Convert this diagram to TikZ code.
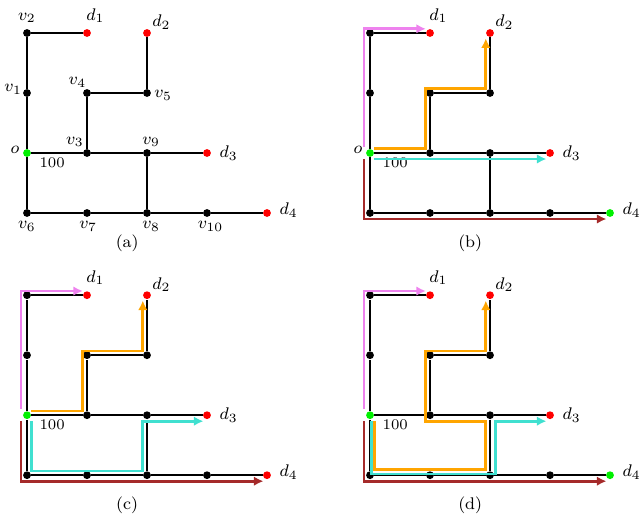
\documentclass[tikz,border=0pt]{standalone}
\usepackage{tikz}
\usetikzlibrary{arrows.meta}
\definecolor{pathviolet}{RGB}{238,130,238}
\definecolor{pathorange}{RGB}{255,165,0}
\definecolor{pathturq}{RGB}{64,224,208}
\definecolor{pathbrown}{RGB}{165,42,42}
\definecolor{srcgreen}{RGB}{0,240,0}
\definecolor{dstred}{RGB}{255,0,0}

% one panel: #1 letter, #2 shift, #3 colour of d4
\newcommand{\gridpanel}[3]{%
\begin{scope}[shift={#2}]
% vertices
\foreach \n/\x/\y in {v1/0/1, v2/0/2, v3/1/0, v4/1/1, v5/2/1, v6/0/-1, v7/1/-1, v8/2/-1, v9/2/0, v10/3/-1}
    \node[vtx] (#1-\n) at (\x,\y) {};
\node[src] (#1-o) at (0,0) {};
\foreach \n/\x/\y in {d1/1/2, d2/2/2, d3/3/0}
    \node[dst] (#1-\n) at (\x,\y) {};
\node[vtx, fill=#3] (#1-d4) at (4,-1) {};
% edges
\draw[link] (#1-v6) -- (#1-o) -- (#1-v1) -- (#1-v2) -- (#1-d1);
\draw[link] (#1-o) -- (#1-v3) -- (#1-v9) -- (#1-d3);
\draw[link] (#1-v3) -- (#1-v4) -- (#1-v5) -- (#1-d2);
\draw[link] (#1-v6) -- (#1-v7) -- (#1-v8) -- (#1-v10) -- (#1-d4);
\draw[link] (#1-v9) -- (#1-v8);
% labels
\foreach \k/\dx/\dy in {1/0.14/0.29, 2/0.24/0.18, 3/0.36/0, 4/0.36/0.05}
    \node[lbl] (#1-ld\k) at ([shift={(\dx,\dy)}]#1-d\k.center) {$d_{\k}$};
\node[wt] (#1-w) at (0.42,-0.16) {100};
\node[capt] (#1-cap) at (1.67,-1.5) {(#1)};
\end{scope}}

\begin{document}
\begin{tikzpicture}[
    vtx/.style={circle, fill=black, inner sep=0pt, minimum size=0.13cm},
    src/.style={vtx, fill=srcgreen},
    dst/.style={vtx, fill=dstred},
    link/.style={line width=0.7pt},
    route/.style={line width=1.3pt, -{Latex[length=4.5pt,width=4.5pt]}},
    lbl/.style={font=\footnotesize, inner sep=1pt},
    wt/.style={font=\scriptsize, inner sep=1pt},
    capt/.style={font=\footnotesize}
]
\useasboundingbox (-0.45,-6.167) rectangle (10.217,2.55);
% four panels
\gridpanel{a}{(0,0)}{dstred}
\gridpanel{b}{(5.717,0)}{srcgreen}
\gridpanel{c}{(0,-4.37)}{dstred}
\gridpanel{d}{(5.717,-4.37)}{srcgreen}
% vertex names
\foreach \n/\dx/\dy in {1/-0.23/0.06, 2/0/0.25, 3/-0.2/0.19, 4/-0.16/0.18, 5/0.27/-0.04, 6/0/-0.22, 7/0.02/-0.22, 8/0.07/-0.22, 9/0.07/0.19, 10/0.06/-0.22}
    \node[lbl] (a-lv\n) at ([shift={(\dx,\dy)}]a-v\n.center) {$v_{\n}$};
\foreach \p in {a,b}
    \node[lbl] (\p-lo) at ([shift={(-0.2,0.05)}]\p-o.center) {$o$};
% routes
\foreach \p in {b,c,d} {
    \draw[route, pathviolet] ([shift={(-0.1,0.1)}]\p-o.center) |- ([shift={(-0.07,0.07)}]\p-d1.center);
    \draw[route, pathbrown] ([shift={(-0.1,-0.1)}]\p-o.center) |- ([shift={(-0.06,-0.1)}]\p-d4.center);
}
\foreach \p in {b,c}
    \draw[route, pathorange] ([shift={(0.07,0.07)}]\p-o.center) -| ([shift={(-0.07,0.07)}]\p-v4.center) -| ([shift={(-0.07,-0.09)}]\p-d2.center);
\draw[route, pathturq] ([shift={(0.07,-0.1)}]b-o.center) -- ([shift={(-0.06,-0.1)}]b-d3.center);
\draw[route, pathturq] ([shift={(0.07,-0.1)}]c-o.center) |- ([shift={(-0.07,0.07)}]c-v8.center) |- ([shift={(-0.06,-0.1)}]c-d3.center);
\draw[route, pathorange] ([shift={(0.07,-0.1)}]d-o.center) |- ([shift={(-0.08,0.09)}]d-v8.center) |- ([shift={(-0.08,-0.1)}]d-v3.center) |- ([shift={(-0.07,0.07)}]d-v5.center) -- ([shift={(-0.07,-0.09)}]d-d2.center);
\draw[route, pathturq] ([shift={(0.03,-0.1)}]d-o.center) |- ([shift={(0.09,0.02)}]d-v8.center) |- ([shift={(-0.06,-0.1)}]d-d3.center);
\end{tikzpicture}
\end{document}
